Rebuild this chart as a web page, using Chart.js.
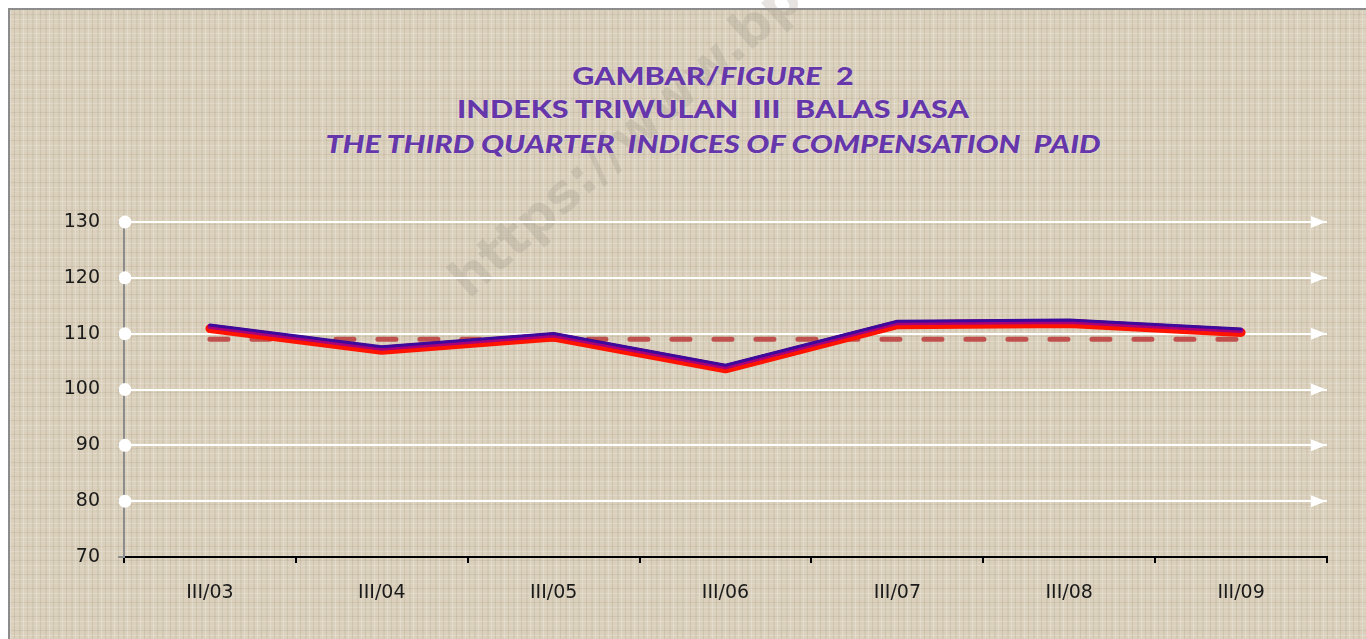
<!DOCTYPE html>
<html lang="id">
<head>
    <meta charset="UTF-8">
    <title>Indeks Triwulan III Balas Jasa</title>
    <script src="https://cdn.jsdelivr.net/npm/chart.js"></script>
    <style>
        * { margin: 0; padding: 0; box-sizing: border-box; }
        html, body { width: 1366px; height: 639px; overflow: hidden; background: #fff; }
        .frame {
            position: absolute; left: 8px; top: 8px; width: 1400px; height: 700px;
            border: 2px solid #8c8c8c;
            background-color: #dad0bc;
            background-image:
                repeating-linear-gradient(90deg, rgba(255,255,255,0.22) 0 1px, transparent 1px 4px, rgba(110,95,75,0.12) 4px 5px, transparent 5px 9px, rgba(110,95,75,0.08) 9px 11px, transparent 11px 13px),
                repeating-linear-gradient(0deg, rgba(255,255,255,0.20) 0 1px, transparent 1px 5px, rgba(110,95,75,0.10) 5px 6px, transparent 6px 10px, rgba(255,255,255,0.12) 10px 11px, transparent 11px 14px);
        }
        .watermark {
            position: absolute; left: 474px; top: 254px;
            font: bold 52px 'DejaVu Sans', sans-serif; line-height: 52px;
            color: rgba(160, 148, 134, 0.26);
            transform: rotate(-41.5deg); transform-origin: left bottom;
            white-space: nowrap;
        }
        .title {
            position: absolute; left: 0; width: 1426px; text-align: center;
            font-family: 'Lato', sans-serif; font-weight: 900; font-size: 25px;
            color: #6537aa; white-space: pre;
            transform: scaleX(1.22); transform-origin: 713px 0;
            text-shadow: 0 0 2px rgba(255,255,255,0.5);
        }
        canvas { position: absolute; left: 0; top: 0; }
    </style>
</head>
<body>
    <div class="frame"></div>
    <div class="watermark">https://www.bps.go.id</div>
    <div class="title" style="top:60px">GAMBAR/<i>FIGURE</i>  2</div>
    <div class="title" style="top:93px">INDEKS TRIWULAN  III  BALAS JASA</div>
    <div class="title" style="top:128px"><i>THE THIRD QUARTER  INDICES OF COMPENSATION  PAID</i></div>
    <canvas id="chart" width="1366" height="639"></canvas>

    <script>
        const categories = ['III/03', 'III/04', 'III/05', 'III/06', 'III/07', 'III/08', 'III/09'];
        const indexValues = [111.0, 107.1, 109.5, 103.8, 111.7, 111.9, 110.3];
        const averageValues = [109.0, 109.0, 109.0, 109.0, 109.0, 109.0, 109.0];
        const yTicks = [70, 80, 90, 100, 110, 120, 130];

        // geser dataset sedikit ke atas supaya garis tampak bergradasi biru -> merah
        const shiftPlugin = {
            id: 'shift',
            beforeDatasetDraw(chart, args) {
                chart.ctx.save();
                const s = chart.data.datasets[args.index].yShift || 0;
                chart.ctx.translate(0, s);
            },
            afterDatasetDraw(chart) {
                chart.ctx.restore();
            }
        };

        // bulatan putih di kiri, panah putih di kanan tiap garis grid
        const gridMarks = {
            id: 'gridMarks',
            afterDraw(chart) {
                const ctx = chart.ctx;
                const y = chart.scales.y;
                const area = chart.chartArea;
                ctx.save();
                ctx.fillStyle = '#ffffff';
                yTicks.forEach(v => {
                    if (v === 70) return;
                    const py = y.getPixelForValue(v);
                    ctx.beginPath();
                    ctx.arc(area.left + 1, py, 6.5, 0, Math.PI * 2);
                    ctx.fill();
                    ctx.beginPath();
                    ctx.moveTo(area.right - 16, py - 6);
                    ctx.lineTo(area.right - 1, py);
                    ctx.lineTo(area.right - 16, py + 6);
                    ctx.closePath();
                    ctx.fill();
                });
                ctx.restore();
            }
        };

        new Chart(document.getElementById('chart'), {
            type: 'line',
            data: {
                labels: categories,
                datasets: [{
                    data: averageValues,
                    borderColor: '#c0504d',
                    borderWidth: 5,
                    borderDash: [18, 24],
                    borderCapStyle: 'round',
                    pointRadius: 0,
                    order: 4
                }, {
                    data: indexValues,
                    borderColor: '#ff1400',
                    borderWidth: 9,
                    borderCapStyle: 'round',
                    borderJoinStyle: 'round',
                    pointRadius: 0,
                    yShift: 0.5,
                    order: 3
                }, {
                    data: indexValues,
                    borderColor: '#a8007a',
                    borderWidth: 5,
                    borderCapStyle: 'round',
                    borderJoinStyle: 'round',
                    pointRadius: 0,
                    yShift: -1.5,
                    order: 2
                }, {
                    data: indexValues,
                    borderColor: '#3c0a9c',
                    borderWidth: 3,
                    borderCapStyle: 'round',
                    borderJoinStyle: 'round',
                    pointRadius: 0,
                    yShift: -3,
                    order: 1
                }]
            },
            options: {
                responsive: false,
                animation: false,
                layout: { padding: { top: 222, right: 39, left: 0, bottom: 0 } },
                plugins: { legend: { display: false }, tooltip: { enabled: false } },
                scales: {
                    x: {
                        offset: true,
                        afterFit: s => { s.height = 82; },
                        grid: { offset: true, drawOnChartArea: false, tickLength: 6, color: '#000', lineWidth: 2 },
                        border: { color: '#000', width: 2 },
                        ticks: { color: '#1a1a1a', padding: 19, font: { family: 'DejaVu Sans', size: 19 } }
                    },
                    y: {
                        min: 70, max: 130,
                        afterFit: s => { s.width = 124; },
                        afterBuildTicks: s => { s.ticks = yTicks.map(v => ({ value: v })); },
                        grid: {
                            color: c => c.tick && c.tick.value === 70 ? 'rgba(0,0,0,0)' : '#ffffff',
                            tickColor: '#8c8c8c',
                            lineWidth: 2,
                            tickLength: 6
                        },
                        border: { color: '#8c8c8c', width: 2 },
                        ticks: { color: '#1a1a1a', padding: 18, font: { family: 'DejaVu Sans', size: 19 } }
                    }
                }
            },
            plugins: [shiftPlugin, gridMarks]
        });
    </script>
</body>
</html>
